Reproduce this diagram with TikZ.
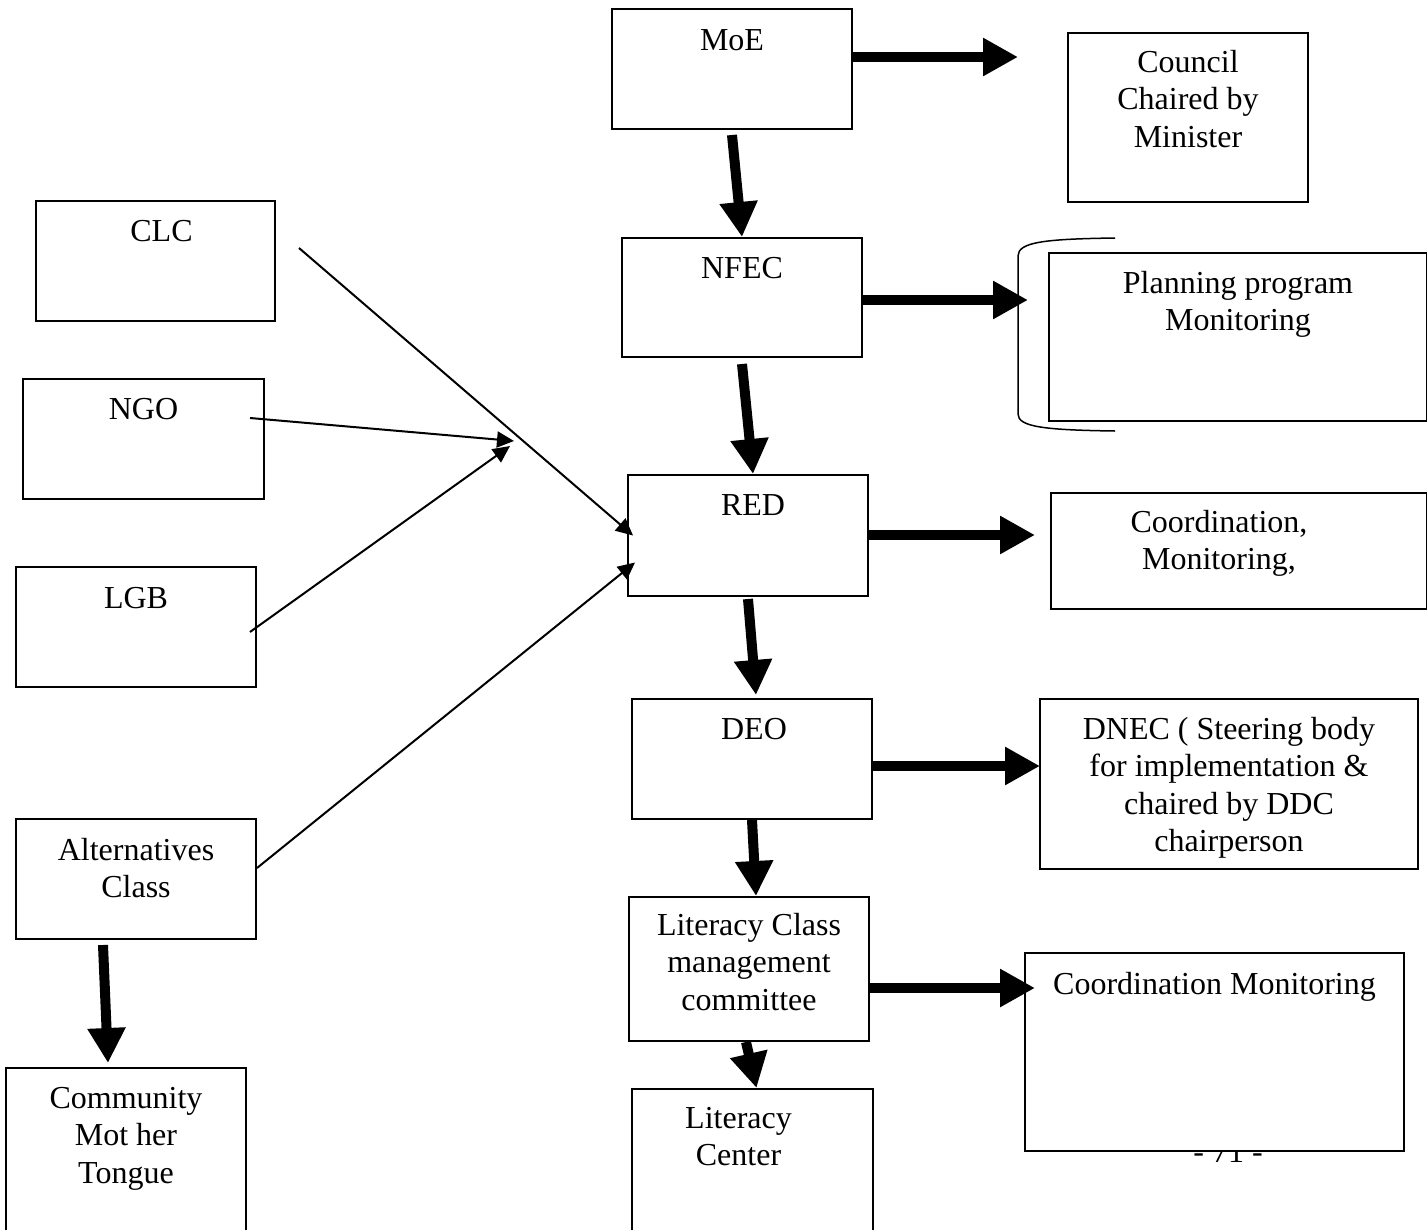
\documentclass[tikz,border=0pt]{standalone}
\usepackage{fontspec}
\setmainfont{Liberation Serif}
\usetikzlibrary{arrows.meta}
\begin{document}
\begin{tikzpicture}[x=1pt,y=-1pt,
  box/.style={draw, line width=2pt, fill=white, inner sep=0pt, anchor=north west},
  lbl/.style={anchor=north, align=center, inner sep=0pt, font=\fontsize{32}{37.5}\selectfont},
  bigarrow/.style={line width=10pt, -{Triangle[length=35pt,width=36pt]}},
  thinarrow/.style={line width=2pt, -{Triangle[length=17pt,width=16pt]}}]
\clip (0,0) rectangle (1427,1229);
\fill[white] (0,0) rectangle (1427,1229);
% page number (partly hidden behind box)
\node[lbl, anchor=base] (pnum) at (1228,1162) {- 71 -};
% boxes
\node[box, minimum width=240pt, minimum height=120pt] (moe) at (611,8) {};
\node[box, minimum width=240pt, minimum height=169pt] (council) at (1067,32) {};
\node[box, minimum width=239pt, minimum height=120pt] (clc) at (35,200) {};
\node[box, minimum width=240pt, minimum height=119pt] (nfec) at (621,237) {};
\node[box, minimum width=378pt, minimum height=168pt] (plan) at (1048,252) {};
\node[box, minimum width=241pt, minimum height=120pt] (ngo) at (22,378) {};
\node[box, minimum width=240pt, minimum height=121pt] (red) at (627,474) {};
\node[box, minimum width=376pt, minimum height=116pt] (coord) at (1050,492) {};
\node[box, minimum width=240pt, minimum height=120pt] (lgb) at (15,566) {};
\node[box, minimum width=240pt, minimum height=120pt] (deo) at (631,698) {};
\node[box, minimum width=378pt, minimum height=170pt] (dnec) at (1039,698) {};
\node[box, minimum width=240pt, minimum height=120pt] (alt) at (15,818) {};
\node[box, minimum width=240pt, minimum height=144pt] (lcmc) at (628,896) {};
\node[box, minimum width=379pt, minimum height=198pt] (cmon) at (1024,952) {};
\node[box, minimum width=240pt, minimum height=250pt] (comm) at (5,1067) {};
\node[box, minimum width=241pt, minimum height=250pt] (litc) at (631,1088) {};
% bracket around planning box
\draw[line width=1.5pt] (1115,238) .. controls (1045,239) and (1018,242) .. (1018,256)
  -- (1018,414) .. controls (1018,427) and (1045,430) .. (1115,431);
% labels (first baseline about 41pt below box top; strut height 26.25pt)
\node[lbl] (tmoe) at ([yshift=-16pt]moe.north) {\strut MoE};
\node[lbl] (tcouncil) at ([yshift=-14pt]council.north) {\strut Council\\Chaired by\\Minister};
\node[lbl] (tclc) at ([xshift=6pt,yshift=-15pt]clc.north) {\strut CLC};
\node[lbl] (tnfec) at ([yshift=-15pt]nfec.north) {\strut NFEC};
\node[lbl] (tplan) at ([yshift=-15pt]plan.north) {\strut Planning program\\Monitoring};
\node[lbl] (tngo) at ([yshift=-15pt]ngo.north) {\strut NGO};
\node[lbl] (tred) at ([xshift=5pt,yshift=-15pt]red.north) {\strut RED};
\node[lbl] (tcoord) at ([xshift=-20pt,yshift=-14pt]coord.north) {\strut Coordination,\\Monitoring,};
\node[lbl] (tlgb) at ([yshift=-16pt]lgb.north) {\strut LGB};
\node[lbl] (tdeo) at ([xshift=2pt,yshift=-15pt]deo.north) {\strut DEO};
\node[lbl] (tdnec) at ([yshift=-15pt]dnec.north) {\strut DNEC ( Steering body\\for implementation \&\\chaired by DDC\\chairperson};
\node[lbl] (talt) at ([yshift=-16pt]alt.north) {\strut Alternatives\\Class};
\node[lbl] (tlcmc) at ([yshift=-13pt]lcmc.north) {\strut Literacy Class\\management\\committee};
\node[lbl] (tcmon) at ([yshift=-16pt]cmon.north) {\strut Coordination Monitoring};
\node[lbl] (tcomm) at ([yshift=-15pt]comm.north) {\strut Community\\Mot her\\Tongue};
\node[lbl] (tlitc) at ([xshift=-14pt,yshift=-14pt]litc.north) {\strut Literacy\\Center};
% coordinates for free ends
\coordinate (moeTip) at (1018,57);
\coordinate (nfecTip) at (1028,300);
\coordinate (redTip) at (1035,535);
\coordinate (deoTip) at (1040,766);
\coordinate (lcmcTip) at (1035,988);
\coordinate (clcStart) at (299,248);
\coordinate (ngoStart) at (250,418);
\coordinate (lgbStart) at (250,632);
\coordinate (altStart) at (257,868);
\coordinate (hub) at (514,441);
\coordinate (hubB) at (510,446);
% thick arrows
\draw[bigarrow] (moe.east |- moeTip) -- (moeTip);
\draw[bigarrow] ([yshift=-5pt]moe.south) -- (nfec.north);
\draw[bigarrow] (nfec.east |- nfecTip) -- (nfecTip);
\draw[bigarrow] ([yshift=-6pt]nfec.south) -- ([xshift=5pt]red.north);
\draw[bigarrow] (red.east |- redTip) -- (redTip);
\draw[bigarrow] ([yshift=-2pt]red.south) -- ([xshift=4pt,yshift=3pt]deo.north);
\draw[bigarrow] (deo.east |- deoTip) -- (deoTip);
\draw[bigarrow] (deo.south) -- ([xshift=7pt]lcmc.north);
\draw[bigarrow] (lcmc.east |- lcmcTip) -- (lcmcTip);
\draw[bigarrow] ([xshift=-3pt]lcmc.south) -- ([xshift=4pt]litc.north);
\draw[bigarrow] ([xshift=-33pt,yshift=-5pt]alt.south) -- ([xshift=-18pt,yshift=4pt]comm.north);
% thin arrows
\draw[thinarrow] (clcStart) -- ([xshift=6pt]red.west);
\draw[thinarrow] (ngoStart) -- (hub);
\draw[thinarrow] (lgbStart) -- (hubB);
\draw[thinarrow] (altStart) -- ([xshift=8pt,yshift=-27pt]red.west);
\end{tikzpicture}
\end{document}
